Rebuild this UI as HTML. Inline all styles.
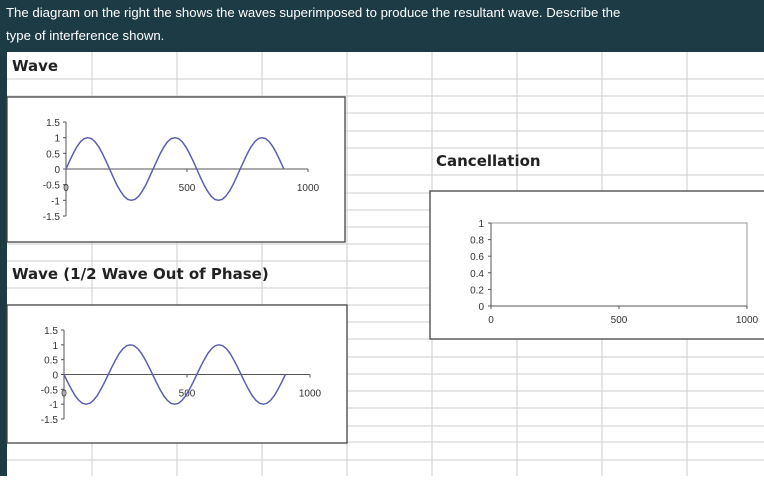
<!DOCTYPE html>
<html><head><meta charset="utf-8"><style>
body{margin:0;width:764px;height:476px;overflow:hidden;background:#fff;font-family:"Liberation Sans",sans-serif}
</style></head><body>
<svg width="764" height="476" xmlns="http://www.w3.org/2000/svg">
<rect x="0" y="0" width="764" height="52" fill="#1d3b45"/>
<text x="6" y="17" fill="#fff" font-size="13.2" font-family="Liberation Sans, sans-serif">The diagram on the right the shows the waves superimposed to produce the resultant wave. Describe the</text>
<text x="6" y="40" fill="#fff" font-size="13.2" font-family="Liberation Sans, sans-serif">type of interference shown.</text>
<rect x="0" y="52" width="7" height="424" fill="#1d3b45"/>
<g id="grid"></g>
<text x="12" y="71" font-size="15" font-weight="bold" font-family="DejaVu Sans, sans-serif" fill="#222">Wave</text>
<text x="12" y="279" font-size="15" font-weight="bold" font-family="DejaVu Sans, sans-serif" fill="#222">Wave  (1/2 Wave Out of Phase)</text>
<text x="436" y="166" font-size="15" font-weight="bold" font-family="DejaVu Sans, sans-serif" fill="#222">Cancellation</text>
<g id="c1"></g>
<g id="c2"></g>
<g id="c3"></g>
</svg>
<script>
const xValues=[0,15,30,45,60,75,90,105,120,135,150,165,180,195,210,225,240,255,270,285,300,315,330,345,360,375,390,405,420,435,450,465,480,495,510,525,540,555,570,585,600,615,630,645,660,675,690,705,720,735,750,765,780,795,810,825,840,855,870,885,900];
const waveValues=[0,0.26,0.5,0.71,0.87,0.97,1,0.97,0.87,0.71,0.5,0.26,0,-0.26,-0.5,-0.71,-0.87,-0.97,-1,-0.97,-0.87,-0.71,-0.5,-0.26,0,0.26,0.5,0.71,0.87,0.97,1,0.97,0.87,0.71,0.5,0.26,0,-0.26,-0.5,-0.71,-0.87,-0.97,-1,-0.97,-0.87,-0.71,-0.5,-0.26,0,0.26,0.5,0.71,0.87,0.97,1,0.97,0.87,0.71,0.5,0.26,0];
const phaseValues=[0,-0.26,-0.5,-0.71,-0.87,-0.97,-1,-0.97,-0.87,-0.71,-0.5,-0.26,0,0.26,0.5,0.71,0.87,0.97,1,0.97,0.87,0.71,0.5,0.26,0,-0.26,-0.5,-0.71,-0.87,-0.97,-1,-0.97,-0.87,-0.71,-0.5,-0.26,0,0.26,0.5,0.71,0.87,0.97,1,0.97,0.87,0.71,0.5,0.26,0,-0.26,-0.5,-0.71,-0.87,-0.97,-1,-0.97,-0.87,-0.71,-0.5,-0.26,0];
const waveYTicks=["1.5","1","0.5","0","-0.5","-1","-1.5"];
const xTickLabels=["0","500","1000"];
const cancelYTicks=["1","0.8","0.6","0.4","0.2","0"];
const NS="http://www.w3.org/2000/svg";
function mk(p,t,a){const e=document.createElementNS(NS,t);for(const k in a)e.setAttribute(k,a[k]);p.appendChild(e);return e;}
const grid=document.getElementById('grid');
[92,177,262,347,432,517,602,687].forEach(x=>{const l=mk(grid,'line',{x1:x,y1:52,x2:x,y2:476,stroke:'#d6d6d6','stroke-width':1.2});

});
[79,96,113,131,148,175,193,210,227,244,261,288,305,322,339,357,374,391,408,426,442,460].forEach(y=>{const l=mk(grid,'line',{x1:7,y1:y,x2:764,y2:y,stroke:'#d6d6d6','stroke-width':1.2});

});
function waveChart(g,box,ax,vals){
  const b=mk(g,'rect',{x:box[0],y:box[1],width:box[2],height:box[3],fill:'#fff',stroke:'#444','stroke-width':1.3});
  
  
  const X=v=>ax.x0+(v/1000)*(ax.x1-ax.x0);
  const Y=v=>ax.y0+(1.5-v)/3*(ax.y1-ax.y0);
  mk(g,'line',{x1:X(0),y1:Y(1.5),x2:X(0),y2:Y(-1.5),stroke:'#555'});
  mk(g,'line',{x1:X(0),y1:Y(0),x2:X(1000),y2:Y(0),stroke:'#555'});
  waveYTicks.forEach(t=>{const v=parseFloat(t);mk(g,'line',{x1:X(0)-3,y1:Y(v),x2:X(0),y2:Y(v),stroke:'#555'});
    const tx=mk(g,'text',{x:X(0)-6,y:Y(v)+4,'font-size':10,'text-anchor':'end',fill:'#333'});tx.textContent=t;
    
    });
  xTickLabels.forEach(t=>{const v=parseFloat(t);mk(g,'line',{x1:X(v),y1:Y(0),x2:X(v),y2:Y(0)+3,stroke:'#555'});
    const tx=mk(g,'text',{x:X(v),y:Y(0)+22,'font-size':10,'text-anchor':'middle',fill:'#333'});tx.textContent=t;
    
    });
  const p=mk(g,'path',{d:xValues.map((x,i)=>(i?'L':'M')+X(x).toFixed(1)+' '+Y(vals[i]).toFixed(1)).join(''),fill:'none',stroke:'#5a5fb0','stroke-width':1.5,'stroke-linejoin':'round'});
  
  
}
waveChart(document.getElementById('c1'),[7,97,338,145],{x0:66,x1:308,y0:122,y1:216},waveValues);
waveChart(document.getElementById('c2'),[7,305,340,138],{x0:64,x1:310,y0:330,y1:419},phaseValues);
(function(){
  const g=document.getElementById('c3');
  const b=mk(g,'rect',{x:430,y:191,width:340,height:148,fill:'#fff',stroke:'#444','stroke-width':1.3});
  
  
  const X=v=>491+v/1000*256, Y=v=>306-v*83;
  const pa=mk(g,'rect',{x:491,y:223,width:256,height:83,fill:'none',stroke:'#999'});
  
  
  mk(g,'line',{x1:491,y1:223,x2:491,y2:306,stroke:'#555'});
  mk(g,'line',{x1:491,y1:306,x2:747,y2:306,stroke:'#555'});
  cancelYTicks.forEach(t=>{const v=parseFloat(t);mk(g,'line',{x1:488,y1:Y(v),x2:491,y2:Y(v),stroke:'#555'});
    const tx=mk(g,'text',{x:484,y:Y(v)+4,'font-size':10,'text-anchor':'end',fill:'#333'});tx.textContent=t;
    
    });
  xTickLabels.forEach(t=>{const v=parseFloat(t);mk(g,'line',{x1:X(v),y1:306,x2:X(v),y2:309,stroke:'#555'});
    const tx=mk(g,'text',{x:X(v),y:323,'font-size':10,'text-anchor':'middle',fill:'#333'});tx.textContent=t;
    
    });
})();
</script>
</body></html>
